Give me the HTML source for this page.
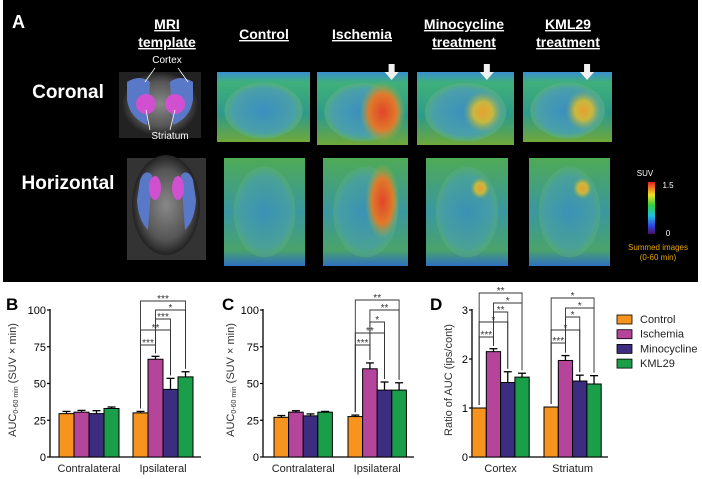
<!DOCTYPE html>
<html><head><meta charset="utf-8"><style>
html,body{margin:0;padding:0;background:#fff;}
svg{display:block;font-family:"Liberation Sans",Arial,sans-serif;}
</style></head><body>
<svg id="fig" width="702" height="479" viewBox="0 0 702 479" xmlns="http://www.w3.org/2000/svg">
<defs>
<linearGradient id="petbg" x1="0" y1="0" x2="0" y2="1">
<stop offset="0" stop-color="#3a8fd0"/><stop offset="0.15" stop-color="#3fb07a"/><stop offset="0.6" stop-color="#2e9a8a"/><stop offset="1" stop-color="#6fa83a"/></linearGradient>
<linearGradient id="petbgH" x1="0" y1="0" x2="0" y2="1">
<stop offset="0" stop-color="#4faa55"/><stop offset="0.5" stop-color="#3a97a0"/><stop offset="0.85" stop-color="#4aa36a"/><stop offset="1" stop-color="#3070c0"/></linearGradient>
<radialGradient id="brainC"><stop offset="0" stop-color="#3a8fc0"/><stop offset="0.8" stop-color="#4aa0a8"/><stop offset="1" stop-color="#5cb080" stop-opacity="0.6"/></radialGradient>
<radialGradient id="hotStrong"><stop offset="0" stop-color="#e2452a"/><stop offset="0.6" stop-color="#e07a2a"/><stop offset="1" stop-color="#a0b040" stop-opacity="0"/></radialGradient>
<radialGradient id="hotMed"><stop offset="0" stop-color="#e8a030"/><stop offset="0.5" stop-color="#c8b840"/><stop offset="1" stop-color="#90b050" stop-opacity="0"/></radialGradient>
<radialGradient id="mri"><stop offset="0" stop-color="#888"/><stop offset="0.7" stop-color="#555"/><stop offset="1" stop-color="#222"/></radialGradient>
<linearGradient id="cbar" x1="0" y1="1" x2="0" y2="0">
<stop offset="0" stop-color="#4a1060"/><stop offset="0.15" stop-color="#3040e0"/><stop offset="0.35" stop-color="#20c0e0"/><stop offset="0.55" stop-color="#30d040"/><stop offset="0.75" stop-color="#f0e020"/><stop offset="0.9" stop-color="#f07020"/><stop offset="1" stop-color="#e02020"/></linearGradient>
</defs>

<rect x="3" y="0" width="695" height="282" fill="#000"/>
<text x="12" y="28" fill="#fff" font-size="18" font-weight="bold">A</text>

<g fill="#fff" font-size="14" font-weight="bold" text-anchor="middle" text-decoration="underline">
<text x="167" y="29">MRI</text>
<text x="167" y="47">template</text>
<text x="264" y="39">Control</text>
<text x="362" y="39">Ischemia</text>
<text x="464" y="29">Minocycline</text>
<text x="464" y="47">treatment</text>
<text x="568" y="29">KML29</text>
<text x="568" y="47">treatment</text>
</g>
<text x="68" y="98" fill="#fff" font-size="19" font-weight="bold" text-anchor="middle">Coronal</text>
<text x="68" y="189" fill="#fff" font-size="19" font-weight="bold" text-anchor="middle">Horizontal</text>

<g>
<rect x="119" y="72" width="82" height="66" fill="#222"/>
<ellipse cx="160" cy="104" rx="38" ry="32" fill="url(#mri)"/>
<path d="M127 82 Q140 74 150 82 L147 125 Q130 118 127 100 Z" fill="#5a78c8"/>
<path d="M193 82 Q180 74 170 82 L173 125 Q190 118 193 100 Z" fill="#5a78c8"/>
<ellipse cx="146" cy="104" rx="10" ry="10" fill="#d050d0"/>
<ellipse cx="175" cy="104" rx="10" ry="10" fill="#d050d0"/>
<line x1="155" y1="68" x2="145" y2="82" stroke="#fff" stroke-width="0.8"/>
<line x1="178" y1="68" x2="188" y2="82" stroke="#fff" stroke-width="0.8"/>
<line x1="150" y1="130" x2="146" y2="110" stroke="#fff" stroke-width="0.8"/>
<line x1="170" y1="130" x2="175" y2="110" stroke="#fff" stroke-width="0.8"/>
</g>
<text x="167" y="63" fill="#fff" font-size="10" text-anchor="middle">Cortex</text>
<text x="170" y="139" fill="#fff" font-size="10" text-anchor="middle">Striatum</text>

<g>
<rect x="127" y="158" width="79" height="102" fill="#333"/>
<ellipse cx="166" cy="205" rx="34" ry="50" fill="url(#mri)"/>
<path d="M140 180 Q145 168 152 175 L148 230 Q138 220 137 200 Z" fill="#5a78c8"/>
<path d="M193 180 Q188 168 181 175 L185 230 Q195 220 196 200 Z" fill="#5a78c8"/>
<ellipse cx="155" cy="188" rx="6" ry="12" fill="#d050d0"/>
<ellipse cx="178" cy="188" rx="6" ry="12" fill="#d050d0"/>
</g>

<g id="pet"></g>

<g>
<rect x="648" y="182" width="7" height="52" fill="url(#cbar)"/>
<text x="645" y="176" fill="#fff" font-size="8" text-anchor="middle">SUV</text>
<text x="668" y="188" fill="#fff" font-size="8" text-anchor="middle">1.5</text>
<text x="668" y="236" fill="#fff" font-size="8" text-anchor="middle">0</text>
<text x="658" y="250" fill="#e8a800" font-size="8" text-anchor="middle">Summed images</text>
<text x="658" y="260" fill="#e8a800" font-size="8" text-anchor="middle">(0-60 min)</text>
</g>

<g id="charts"></g>
</svg>
<script>
// ---- chart data ----
const groups = ["Control","Ischemia","Minocycline","KML29"];
const colors = ["#f7941d","#b5449b","#3d2d80","#1a9e4a"];
const bCategories = ["Contralateral","Ipsilateral"];
const bValues = [[29.5,30.5,29.5,33],[30,66.5,46,54.5]];
const bErrors = [[1.5,1.2,2,1],[1,2,7.5,3.5]];
const bSig = [[0,1,"***"],[0,2,"**"],[1,2,"***"],[1,3,"*"],[0,3,"***"]];
const cCategories = ["Contralateral","Ipsilateral"];
const cValues = [[27,30.5,28,30.5],[27.5,60,45.5,45.5]];
const cErrors = [[1.2,1,1.3,0.5],[1,4,5.5,5]];
const cSig = [[0,1,"***"],[0,2,"**"],[1,2,"*"],[1,3,"**"],[0,3,"**"]];
const dCategories = ["Cortex","Striatum"];
const dValues = [[1.0,2.15,1.52,1.63],[1.02,1.97,1.55,1.49]];
const dErrors = [[0,0.06,0.22,0.08],[0,0.1,0.12,0.17]];
const dSigCortex = [[0,1,"***"],[0,2,"*"],[1,2,"**"],[1,3,"*"],[0,3,"**"]];
const dSigStriatum = [[0,1,"***"],[0,2,"*"],[1,2,"*"],[1,3,"*"],[0,3,"*"]];
const bTicks = [0,25,50,75,100];
const dTicks = [0,1,2,3];

const NS="http://www.w3.org/2000/svg";
function mk(tag, attrs, parent){const e=document.createElementNS(NS,tag);for(const k in attrs)e.setAttribute(k,attrs[k]);parent.appendChild(e);return e;}

// PET images
const pet=document.getElementById('pet');
const petC=[[217,72,93,70,null],[317,72,91,73,"s"],[417,72,97,73,"m"],[523,72,89,70,"m"]];
const petH=[[224,158,81,108,null],[323,158,85,108,"s"],[426,158,82,108,"m"],[529,158,81,108,"m"]];
petC.forEach((p,i)=>{
  const g=mk('g',{},pet);
  
  
  mk('rect',{x:p[0],y:p[1],width:p[2],height:p[3],fill:'url(#petbg)'},g);
  mk('ellipse',{cx:p[0]+p[2]/2,cy:p[1]+p[3]*0.55,rx:p[2]*0.42,ry:p[3]*0.4,fill:'url(#brainC)'},g);
  if(p[4]==='s') mk('ellipse',{cx:p[0]+p[2]*0.72,cy:p[1]+p[3]*0.55,rx:p[2]*0.25,ry:p[3]*0.42,fill:'url(#hotStrong)'},g);
  if(p[4]==='m') mk('ellipse',{cx:p[0]+p[2]*0.68,cy:p[1]+p[3]*0.55,rx:p[2]*0.2,ry:p[3]*0.28,fill:'url(#hotMed)'},g);
  if(i>0){const ax=p[0]+p[2]*(i===1?0.82:0.72);
    mk('path',{d:`M${ax-3} ${p[1]-8} h6 v8 h4 l-7 8 l-7 -8 h4 z`,fill:'#f0f0f0'},g);}
});
petH.forEach((p,i)=>{
  const g=mk('g',{},pet);
  
  
  mk('rect',{x:p[0],y:p[1],width:p[2],height:p[3],fill:'url(#petbgH)'},g);
  mk('ellipse',{cx:p[0]+p[2]/2,cy:p[1]+p[3]*0.5,rx:p[2]*0.38,ry:p[3]*0.42,fill:'url(#brainC)',opacity:0.7},g);
  if(p[4]==='s') mk('ellipse',{cx:p[0]+p[2]*0.7,cy:p[1]+p[3]*0.4,rx:p[2]*0.2,ry:p[3]*0.35,fill:'url(#hotStrong)'},g);
  if(p[4]==='m') mk('ellipse',{cx:p[0]+p[2]*0.66,cy:p[1]+p[3]*0.28,rx:p[2]*0.12,ry:p[3]*0.1,fill:'url(#hotMed)'},g);
});

// Charts
const charts=document.getElementById('charts');
const Y0=457, YH=147;
function drawChart(cfg){
  const g=mk('g',{},charts);
  
  
  const y=v=>Y0-(v/cfg.max)*YH;
  const lbl=mk('text',{x:cfg.labelX,y:310,'font-size':17,'font-weight':'bold'},g);
  lbl.textContent=cfg.letter;
  
  
  const ax=mk('line',{x1:cfg.ax,y1:y(cfg.max)-1,x2:cfg.ax,y2:Y0,stroke:'#000','stroke-width':1.3},g);
  
  
  cfg.ticks.forEach(t=>{
    mk('line',{x1:cfg.ax-3,y1:y(t),x2:cfg.ax,y2:y(t),stroke:'#000','stroke-width':1.2},g);
    const tt=mk('text',{x:cfg.ax-4,y:y(t)+4,'font-size':11,'text-anchor':'end'},g);
    tt.textContent=t;
    
    
  });
  mk('line',{x1:cfg.ax,y1:Y0,x2:cfg.axEnd,y2:Y0,stroke:'#000','stroke-width':1.3},g);
  const yt=mk('text',{transform:`translate(${cfg.ylx},380) rotate(-90)`,'font-size':11,'text-anchor':'middle',fill:'#333'},g);
  yt.innerHTML=cfg.ylabel;
  
  
  cfg.cats.forEach((c,ci)=>{
    const bx=cfg.catX[ci];
    cfg.values[ci].forEach((v,gi)=>{
      const x=bx+gi*cfg.bw, e=cfg.errors[ci][gi];
      const r=mk('rect',{x:x,y:y(v),width:cfg.bw,height:Y0-y(v),fill:colors[gi],stroke:'#000','stroke-width':1},g);
      
      
      if(e>0){mk('line',{x1:x+cfg.bw/2,y1:y(v),x2:x+cfg.bw/2,y2:y(v+e),stroke:'#000','stroke-width':1.3},g);
        mk('line',{x1:x+cfg.bw/2-4,y1:y(v+e),x2:x+cfg.bw/2+4,y2:y(v+e),stroke:'#000','stroke-width':1.3},g);}
    });
    const ct=mk('text',{x:bx+2*cfg.bw,y:472,'font-size':11,'text-anchor':'middle',fill:'#222'},g);
    ct.textContent=c;
    
    
    const sig=cfg.sig[ci];
    sig.forEach((s,si)=>{
      const hy=cfg.sigY[ci][si];
      const x1=bx+s[0]*cfg.bw+cfg.bw/2, x2=bx+s[1]*cfg.bw+cfg.bw/2;
      const top1=y(cfg.values[ci][s[0]]+cfg.errors[ci][s[0]])-3;
      const top2=y(cfg.values[ci][s[1]]+cfg.errors[ci][s[1]])-3;
      const p=mk('path',{d:`M${x1} ${top1} V${hy} H${x2} V${top2}`,fill:'none',stroke:'#333','stroke-width':0.9},g);
      
      
      const st=mk('text',{x:(x1+x2)/2,y:hy+1,'font-size':10,'text-anchor':'middle',fill:'#333'},g);
      st.textContent=s[2];
      
      
    });
  });
}
const auc='AUC<tspan font-size="7" dy="2">0-60 min</tspan><tspan dy="-2"> (SUV × min)</tspan>';
drawChart({name:'panel-b',letter:'B',labelX:6,ax:50,axEnd:201,max:100,ticks:bTicks,cats:bCategories,catX:[59,133],bw:15,
  values:bValues,errors:bErrors,sig:[[],bSig],sigY:[[],[345,330,319,310,301]],ylx:16,ylabel:auc});
drawChart({name:'panel-c',letter:'C',labelX:222,ax:263,axEnd:414,max:100,ticks:bTicks,cats:cCategories,catX:[274,348],bw:14.6,
  values:cValues,errors:cErrors,sig:[[],cSig],sigY:[[],[345,333,322,310,300]],ylx:234,ylabel:auc});
drawChart({name:'panel-d',letter:'D',labelX:430,ax:472,axEnd:608,max:3,ticks:dTicks,cats:dCategories,catX:[472,544],bw:14.3,
  values:dValues,errors:dErrors,sig:[dSigCortex,dSigStriatum],sigY:[[337,322,312,303,293],[343,330,317,308,298]],ylx:452,ylabel:'Ratio of AUC  (ips/cont)'});

// legend
const lg=mk('g',{},charts);


groups.forEach((gname,i)=>{
  const yy=319+i*14.7;
  const r=mk('rect',{x:617,y:yy-4,width:15,height:9,fill:colors[i],stroke:'#000','stroke-width':0.8},lg);
  
  
  const t=mk('text',{x:640,y:yy+4,'font-size':11,fill:'#222'},lg);
  t.textContent=gname;
  
  
});
</script>
</body></html>
